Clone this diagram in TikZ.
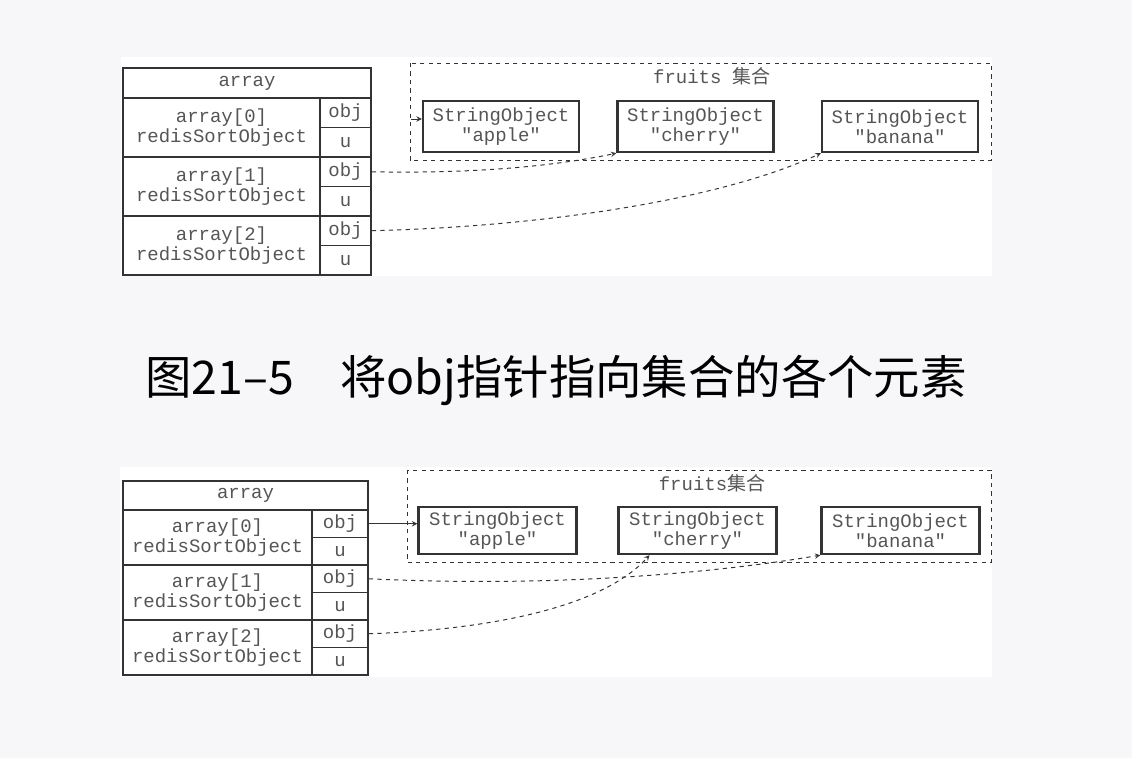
\documentclass[tikz,border=0pt]{standalone}
\usepackage{fontspec}
\setmonofont{Liberation Mono}
\newfontfamily\cjk{Noto Sans CJK SC}
\definecolor{pagegray}{HTML}{F7F7F9}
\definecolor{ink}{HTML}{333333}
\definecolor{txt}{HTML}{555555}
\begin{document}
\begin{tikzpicture}[x=0.025cm, y=-0.025cm, >=stealth,
  every node/.style={font=\fontsize{13.5}{14.5}\selectfont\ttfamily, text=txt},
  cell/.style={draw=ink, line width=1.3pt, inner sep=0pt, align=center},
  strobj/.style={draw=ink, line width=1.7pt, inner sep=0pt, align=center},
  setbox/.style={draw=ink, dashed, line width=0.7pt},
  conn/.style={->, draw=ink, line width=0.7pt}]
\useasboundingbox[fill=pagegray] (0,0) rectangle (1132,758);
\fill[white] (121,57) rectangle (992,276);
\fill[white] (120,467) rectangle (992,677);
% upper figure: array table
\node[cell,minimum width=6.2cm,minimum height=0.75cm] (hdrA) at (247,83) {array};
\node[cell,minimum width=4.925cm,minimum height=1.475cm] (rowA0) at (221.5,127.5) {array[0]\\redisSortObject};
\node[cell,minimum width=4.925cm,minimum height=1.475cm] (rowA1) at (221.5,186.5) {array[1]\\redisSortObject};
\node[cell,minimum width=4.925cm,minimum height=1.475cm] (rowA2) at (221.5,245.5) {array[2]\\redisSortObject};
\node[cell,minimum width=1.275cm,minimum height=0.7375cm] (objA0) at (345.5,112.75) {obj};
\node[cell,minimum width=1.275cm,minimum height=0.7375cm] (uA0) at (345.5,142.25) {u};
\node[cell,minimum width=1.275cm,minimum height=0.7375cm] (objA1) at (345.5,171.75) {obj};
\node[cell,minimum width=1.275cm,minimum height=0.7375cm] (uA1) at (345.5,201.25) {u};
\node[cell,minimum width=1.275cm,minimum height=0.7375cm] (objA2) at (345.5,230.75) {obj};
\node[cell,minimum width=1.275cm,minimum height=0.7375cm] (uA2) at (345.5,260.25) {u};
% upper figure: set
\draw[setbox] (410,63) rectangle (991,160);
\node (setA) at (712,76) {fruits {\cjk 集合}};
\node[strobj,minimum width=3.9cm,minimum height=1.275cm] (appleA) at (501,126.5) {StringObject\\"apple"};
\node[strobj,minimum width=3.9cm,minimum height=1.275cm] (cherryA) at (695.5,126.5) {StringObject\\"cherry"};
\node[strobj,minimum width=3.9cm,minimum height=1.275cm] (bananaA) at (900,126.5) {StringObject\\"banana"};
\coordinate (stubA) at (411,119);
\draw[conn] (stubA) -- (stubA -| appleA.west);
\draw[conn,dashed] (objA1.east) .. controls (480,174) and (560,165) .. (cherryA.south west);
\draw[conn,dashed] (objA2.east) .. controls (560,226) and (730,196) .. (bananaA.south west);
% caption
\node[font=\cjk\fontsize{33}{33}\selectfont, text=black] (caption) at (556,380) {图21–5\quad 将obj指针指向集合的各个元素};
% lower figure: array table
\node[cell,minimum width=6.125cm,minimum height=0.725cm] (hdrB) at (245.5,495.5) {array};
\node[cell,minimum width=4.725cm,minimum height=1.375cm] (rowB0) at (217.5,537.5) {array[0]\\redisSortObject};
\node[cell,minimum width=4.725cm,minimum height=1.375cm] (rowB1) at (217.5,592.5) {array[1]\\redisSortObject};
\node[cell,minimum width=4.725cm,minimum height=1.375cm] (rowB2) at (217.5,647.5) {array[2]\\redisSortObject};
\node[cell,minimum width=1.4cm,minimum height=0.6875cm] (objB0) at (340,523.75) {obj};
\node[cell,minimum width=1.4cm,minimum height=0.6875cm] (uB0) at (340,551.25) {u};
\node[cell,minimum width=1.4cm,minimum height=0.6875cm] (objB1) at (340,578.75) {obj};
\node[cell,minimum width=1.4cm,minimum height=0.6875cm] (uB1) at (340,606.25) {u};
\node[cell,minimum width=1.4cm,minimum height=0.6875cm] (objB2) at (340,633.75) {obj};
\node[cell,minimum width=1.4cm,minimum height=0.6875cm] (uB2) at (340,661.25) {u};
% lower figure: set
\draw[setbox] (407,470) rectangle (991,562);
\node (setB) at (712,483) {fruits{\cjk 集合}};
\node[strobj,minimum width=3.95cm,minimum height=1.175cm] (appleB) at (497.5,530.5) {StringObject\\"apple"};
\node[strobj,minimum width=3.95cm,minimum height=1.175cm] (cherryB) at (697.5,530.5) {StringObject\\"cherry"};
\node[strobj,minimum width=3.95cm,minimum height=1.175cm] (bananaB) at (900.5,530.5) {StringObject\\"banana"};
\draw[conn] (objB0.east) -- (objB0.east -| appleB.west);
\draw[conn,dashed] (objB1.east) .. controls (560,588) and (720,572) .. (bananaB.south west);
\draw[conn,dashed] (objB2.east) .. controls (480,630) and (600,610) .. ([xshift=-1.2cm]cherryB.south);
\end{tikzpicture}
\end{document}
